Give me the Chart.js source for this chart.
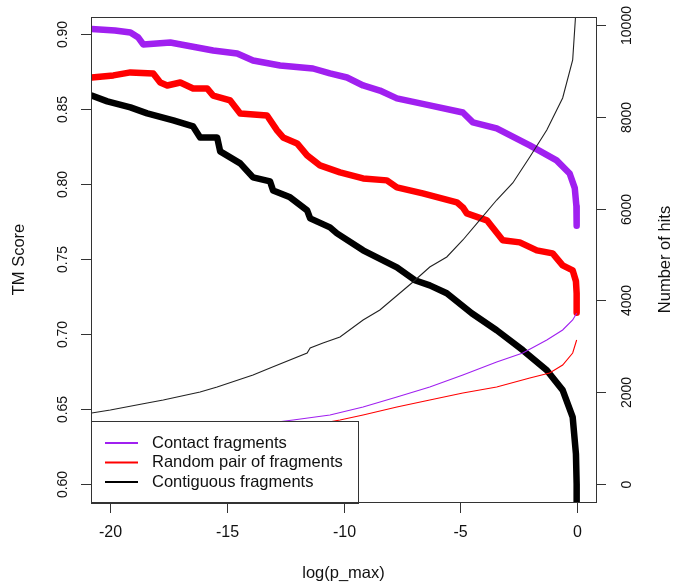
<!DOCTYPE html>
<html>
<head>
<meta charset="utf-8">
<script src="https://cdn.jsdelivr.net/npm/chart.js@4.4.1/dist/chart.umd.min.js"></script>
<style>
  html, body { margin: 0; padding: 0; background: #fff; }
</style>
</head>
<body>
<canvas id="chart" width="676" height="586"></canvas>
<script>
// Tick values
const xTicks = [-20, -15, -10, -5, 0];
const tmTicks = [0.60, 0.65, 0.70, 0.75, 0.80, 0.85, 0.90];
const hitTicks = [0, 2000, 4000, 6000, 8000, 10000];

// Contact fragments - TM score (thick purple)
const contactX = [-20.8, -19.8, -19.14, -18.8, -18.59, -17.43, -15.59, -14.56, -13.88, -12.72, -11.31, -10.58, -9.85, -9.16, -8.44, -7.71, -6.3, -4.88, -4.45, -3.43, -2.01, -0.86, -0.3, -0.08, -0.01, 0];
const contactTM = [0.903, 0.902, 0.9007, 0.8973, 0.8927, 0.894, 0.8887, 0.8867, 0.882, 0.8787, 0.8767, 0.8734, 0.8707, 0.8654, 0.862, 0.8568, 0.8521, 0.8474, 0.8408, 0.8368, 0.8255, 0.8155, 0.8068, 0.797, 0.785, 0.772];

// Random pair of fragments - TM score (thick red)
const randomX = [-20.8, -19.87, -19.14, -18.16, -17.86, -17.56, -17.0, -16.45, -15.85, -15.59, -14.86, -14.43, -13.28, -12.85, -12.59, -11.99, -11.56, -11.01, -10.15, -9.16, -8.14, -7.71, -6.6, -5.14, -4.88, -4.71, -3.85, -3.17, -2.44, -1.71, -1.03, -0.6, -0.17, -0.03, 0, 0];
const randomTM = [0.8707, 0.8721, 0.8741, 0.8734, 0.8674, 0.8654, 0.8674, 0.8634, 0.8634, 0.8587, 0.8554, 0.8468, 0.8454, 0.8355, 0.8308, 0.8268, 0.8188, 0.8122, 0.8075, 0.8035, 0.8022, 0.7975, 0.7935, 0.7876, 0.7842, 0.7802, 0.7756, 0.7623, 0.7609, 0.7556, 0.7536, 0.7456, 0.7423, 0.735, 0.727, 0.714];

// Contiguous fragments - TM score (thick black)
const contigX = [-20.8, -20.13, -19.14, -18.42, -17.3, -16.45, -16.15, -15.42, -15.29, -14.43, -13.88, -13.15, -13.02, -12.29, -11.56, -11.43, -10.58, -10.28, -9.16, -7.71, -6.94, -6.3, -5.57, -4.5, -3.43, -2.31, -1.28, -0.6, -0.17, -0.03, 0, 0];
const contigTM = [0.8587, 0.8548, 0.8508, 0.8468, 0.8421, 0.8381, 0.8308, 0.8308, 0.8215, 0.8135, 0.8042, 0.8015, 0.7955, 0.7909, 0.7822, 0.7769, 0.7709, 0.7669, 0.7556, 0.7443, 0.7357, 0.7323, 0.727, 0.7137, 0.7024, 0.6891, 0.6758, 0.6625, 0.6445, 0.62, 0.6, 0.57];

// Number of hits (thin lines, right axis)
const contigHitsX = [-20.8, -20.0, -18.42, -17.73, -16.15, -15.42, -13.88, -13.15, -11.56, -11.43, -10.88, -10.15, -9.16, -8.44, -7.02, -6.3, -5.57, -4.88, -4.15, -3.43, -2.74, -2.01, -1.28, -0.6, -0.17, -0.02];
const contigHits = [1547, 1612, 1765, 1830, 2004, 2113, 2375, 2527, 2854, 2963, 3072, 3203, 3573, 3791, 4401, 4728, 4946, 5316, 5752, 6187, 6558, 7124, 7712, 8410, 9237, 10400];
const contactHitsX = [-20.8, -16, -12.16, -10.58, -9.16, -7.71, -6.3, -4.88, -3.43, -2.31, -1.28, -0.6, -0.17, 0];
const contactHits = [850, 1150, 1394, 1503, 1678, 1895, 2113, 2375, 2658, 2854, 3137, 3355, 3573, 3720];
const randomHitsX = [-20.8, -15, -10.15, -9.16, -7.71, -6.3, -4.88, -3.43, -2.01, -1.16, -0.6, -0.17, 0];
const randomHits = [600, 950, 1394, 1503, 1678, 1830, 1983, 2113, 2309, 2418, 2593, 2854, 3137];

const legendLabels = ['Contact fragments', 'Random pair of fragments', 'Contiguous fragments'];
const PURPLE = '#a020f0';
const RED = '#ff0000';
const BLACK = '#000000';
const legendColors = [PURPLE, RED, BLACK];

const FONT = '"Liberation Sans", Arial, Helvetica, sans-serif';

function pts(xs, ys) {
    return xs.map((x, i) => ({ x: x, y: ys[i] }));
}

function thin(data, color) {
    return {
        data: data, yAxisID: 'y1', borderColor: color, borderWidth: 1.1,
        pointRadius: 0, tension: 0, fill: false, clip: 0
    };
}

function thick(data, color) {
    return {
        data: data, yAxisID: 'y', borderColor: color, borderWidth: 6.5,
        borderJoinStyle: 'round', borderCapStyle: 'round',
        pointRadius: 0, tension: 0, fill: false, clip: 0
    };
}

// R style axes, box and legend drawn with the chart's scales
const rStyle = {
    id: 'rStyle',
    afterDatasetsDraw(chart) {
        const ctx = chart.ctx;
        const a = chart.chartArea;
        // legend box in the lower left corner
        const bx = a.left, by = 421, bw = 267, bh = a.bottom - 421 + 1;
        ctx.save();
        ctx.fillStyle = '#fff';
        ctx.fillRect(bx, by, bw, bh);
        ctx.strokeStyle = '#333';
        ctx.lineWidth = 1;
        ctx.strokeRect(bx + 0.5, by + 0.5, bw, bh);
        ctx.font = '16.5px ' + FONT;
        ctx.textBaseline = 'middle';
        ctx.textAlign = 'left';
        legendLabels.forEach((lab, i) => {
            const yy = 443 + i * 19.5;
            ctx.strokeStyle = legendColors[i];
            ctx.lineWidth = 2;
            ctx.beginPath();
            ctx.moveTo(105, yy);
            ctx.lineTo(138, yy);
            ctx.stroke();
            ctx.fillStyle = '#111';
            ctx.fillText(lab, 152, yy);
        });
        ctx.restore();
    },
    afterDraw(chart) {
        const ctx = chart.ctx;
        const a = chart.chartArea;
        const sx = chart.scales.x, sy = chart.scales.y, sy1 = chart.scales.y1;
        ctx.save();
        ctx.strokeStyle = '#333';
        ctx.lineWidth = 1;
        ctx.strokeRect(a.left + 0.5, a.top + 0.5, a.right - a.left, a.bottom - a.top);
        ctx.fillStyle = '#111';

        // x axis
        ctx.font = '16px ' + FONT;
        ctx.textAlign = 'center';
        ctx.textBaseline = 'middle';
        xTicks.forEach(v => {
            const px = Math.round(sx.getPixelForValue(v)) + 0.5;
            ctx.beginPath();
            ctx.moveTo(px, a.bottom + 1);
            ctx.lineTo(px, a.bottom + 11);
            ctx.stroke();
            ctx.fillText(String(v), px, 533);
        });
        ctx.font = '16.5px ' + FONT;
        ctx.fillText('log(p_max)', (a.left + a.right) / 2, 573);

        // left axis
        ctx.font = '14px ' + FONT;
        tmTicks.forEach(v => {
            const py = Math.round(sy.getPixelForValue(v)) + 0.5;
            ctx.beginPath();
            ctx.moveTo(a.left - 10, py);
            ctx.lineTo(a.left, py);
            ctx.stroke();
            ctx.save();
            ctx.translate(63, py);
            ctx.rotate(-Math.PI / 2);
            ctx.fillText(v.toFixed(2), 0, 0);
            ctx.restore();
        });

        // right axis
        hitTicks.forEach(v => {
            const py = Math.round(sy1.getPixelForValue(v)) + 0.5;
            ctx.beginPath();
            ctx.moveTo(a.right, py);
            ctx.lineTo(a.right + 10, py);
            ctx.stroke();
            ctx.save();
            ctx.translate(627, py);
            ctx.rotate(-Math.PI / 2);
            ctx.fillText(String(v), 0, 0);
            ctx.restore();
        });

        // axis titles
        ctx.font = '16.5px ' + FONT;
        const cy = (a.top + a.bottom) / 2;
        ctx.save();
        ctx.translate(19, cy);
        ctx.rotate(-Math.PI / 2);
        ctx.fillText('TM Score', 0, 0);
        ctx.restore();
        ctx.save();
        ctx.translate(665, cy);
        ctx.rotate(-Math.PI / 2);
        ctx.fillText('Number of hits', 0, 0);
        ctx.restore();
        ctx.restore();
    }
};

const chart = new Chart(document.getElementById('chart'), {
    type: 'line',
    data: {
        datasets: [
            thin(pts(contactHitsX, contactHits), PURPLE),
            thin(pts(randomHitsX, randomHits), RED),
            thin(pts(contigHitsX, contigHits), '#222'),
            thick(pts(contactX, contactTM), PURPLE),
            thick(pts(randomX, randomTM), RED),
            thick(pts(contigX, contigTM), BLACK)
        ]
    },
    options: {
        responsive: false,
        animation: false,
        devicePixelRatio: 1,
        layout: { padding: { left: 91, right: 80, top: 17, bottom: 84 } },
        plugins: {
            legend: { display: false },
            tooltip: { enabled: false }
        },
        scales: {
            x: { type: 'linear', display: false, min: -20.83, max: 0.83 },
            y: { type: 'linear', display: false, min: 0.588, max: 0.911 },
            y1: { type: 'linear', display: false, min: -392, max: 10174 }
        }
    },
    plugins: [rStyle]
});
</script>
</body>
</html>
